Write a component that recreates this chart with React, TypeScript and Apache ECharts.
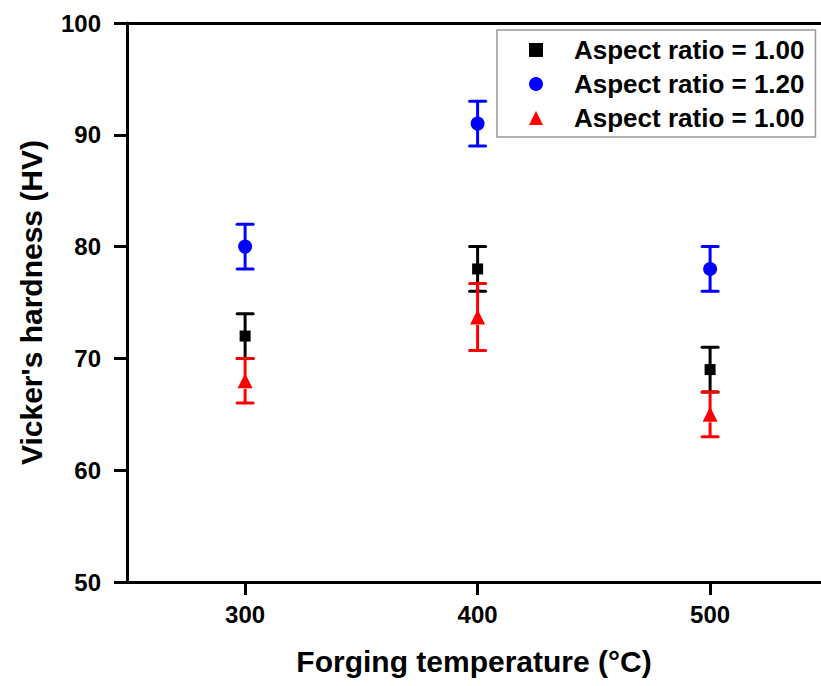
import React, { useEffect, useRef } from "react";
import * as echarts from "echarts";

const temperatures = [300, 400, 500];
const xTicks = [300, 400, 500];

const ar100Mean = [72, 78, 69];
const ar100Err = [2, 2, 2];
const ar120Mean = [80, 91, 78];
const ar120Err = [2, 2, 2];
const ar100bMean = [68, 73.7, 65];
const ar100bErr = [2, 3, 2];

const seriesNames = ["AR100", "AR120", "AR100b"];
const legendLabels: Record<string, string> = {
  AR100: "Aspect ratio = 1.00",
  AR120: "Aspect ratio = 1.20",
  AR100b: "Aspect ratio = 1.00",
};

const FONT = "'Liberation Sans', Arial, sans-serif";

function errData(means: number[], errs: number[]) {
  return temperatures.map((t, i) => [t, means[i], errs[i]]);
}

function scatterData(means: number[]) {
  return temperatures.map((t, i) => [t, means[i]]);
}

function errSeries(name: string, means: number[], errs: number[], color: string, gapBelow: number, z: number) {
  return {
    type: "custom",
    name: name + "_err",
    z,
    data: errData(means, errs),
    encode: { x: 0, y: 1 },
    renderItem: (params: any, api: any) => {
      const x = api.value(0);
      const m = api.value(1);
      const e = api.value(2);
      const pHi = api.coord([x, m + e]);
      const pLo = api.coord([x, m - e]);
      const pM = api.coord([x, m]);
      const hw = 8;
      const style = { stroke: color, lineWidth: 3, lineCap: "butt" };
      return {
        type: "group",
        children: [
          { type: "line", shape: { x1: pHi[0], y1: pHi[1], x2: pM[0], y2: pM[1] }, style },
          { type: "line", shape: { x1: pM[0], y1: pM[1] + gapBelow, x2: pLo[0], y2: pLo[1] }, style },
          { type: "line", shape: { x1: pHi[0] - hw, y1: pHi[1], x2: pHi[0] + hw, y2: pHi[1] }, style: { ...style, lineCap: "round" } },
          { type: "line", shape: { x1: pLo[0] - hw, y1: pLo[1], x2: pLo[0] + hw, y2: pLo[1] }, style: { ...style, lineCap: "round" } },
        ],
      };
    },
  };
}

export default function App() {
  const ref = useRef<HTMLDivElement>(null);
  useEffect(() => {
    if (!ref.current) return;
    const chart = echarts.init(ref.current, undefined, { renderer: "svg" });
    const axisLabelStyle = { color: "#000", fontFamily: FONT, fontWeight: "bold", fontSize: 24 };
    const nameStyle = { color: "#000", fontFamily: FONT, fontWeight: "bold", fontSize: 30 };
    chart.setOption({
      animation: false,
      backgroundColor: "#fff",
      grid: { left: 127, top: 23, right: 0, bottom: 104, containLabel: false },
      legend: {
        orient: "vertical",
        left: 497,
        top: 30,
        padding: [7, 11, 6, 32],
        itemWidth: 14,
        itemHeight: 14,
        itemGap: 8,
        symbolKeepAspect: true,
        borderColor: "#999",
        borderWidth: 1.5,
        backgroundColor: "#fff",
        data: [
          { name: "AR100", icon: "rect", itemStyle: { color: "#000" } },
          { name: "AR120", icon: "circle", itemStyle: { color: "#0000ff" } },
          { name: "AR100b", icon: "triangle", itemStyle: { color: "#ff0000" } },
        ],
        formatter: (n: string) => legendLabels[n],
        textStyle: { color: "#000", fontFamily: FONT, fontWeight: "bold", fontSize: 26, lineHeight: 26, padding: [0, 0, 0, 26] },
        selectedMode: false,
      },
      xAxis: [
        {
          type: "value",
          min: 249.2,
          max: 547.7,
          position: "bottom",
          name: "Forging temperature (°C)",
          nameLocation: "middle",
          nameGap: 64,
          nameTextStyle: nameStyle,
          axisLine: { show: true, lineStyle: { color: "#000", width: 3 } },
          axisTick: { show: true, inside: false, length: 13, lineStyle: { color: "#000", width: 3 }, customValues: xTicks },
          axisLabel: { ...axisLabelStyle, margin: 20, customValues: xTicks },
          splitLine: { show: false },
        },
        {
          type: "value",
          min: 249.2,
          max: 547.7,
          position: "top",
          axisLine: { show: true, onZero: false, lineStyle: { color: "#000", width: 3 } },
          axisTick: { show: false },
          axisLabel: { show: false },
          splitLine: { show: false },
        },
      ],
      yAxis: {
        type: "value",
        min: 50,
        max: 100,
        interval: 10,
        name: "Vicker's hardness (HV)",
        nameLocation: "middle",
        nameRotate: 90,
        nameGap: 81,
        nameTextStyle: nameStyle,
        axisLine: { show: true, lineStyle: { color: "#000", width: 3 } },
        axisTick: { show: true, inside: false, length: 13, lineStyle: { color: "#000", width: 3 } },
        axisLabel: { ...axisLabelStyle, margin: 26 },
        splitLine: { show: false },
      },
      series: [
        errSeries("AR120", ar120Mean, ar120Err, "#0000ff", 0, 2),
        {
          type: "scatter",
          name: "AR120",
          z: 3,
          symbol: "circle",
          symbolSize: 14,
          itemStyle: { color: "#0000ff", opacity: 1 },
          data: scatterData(ar120Mean),
        },
        errSeries("AR100", ar100Mean, ar100Err, "#000000", 0, 4),
        {
          type: "scatter",
          name: "AR100",
          z: 5,
          symbol: "rect",
          symbolSize: 11,
          itemStyle: { color: "#000000", opacity: 1 },
          data: scatterData(ar100Mean),
        },
        errSeries("AR100b", ar100bMean, ar100bErr, "#ff0000", 8, 6),
        {
          type: "scatter",
          name: "AR100b",
          z: 7,
          symbol: "triangle",
          symbolSize: 15,
          itemStyle: { color: "#ff0000", opacity: 1 },
          data: scatterData(ar100bMean),
        },
      ],
    });
    return () => chart.dispose();
  }, []);
  return (
    <div
      ref={ref}
      style={{ position: "fixed", left: 0, top: 0, width: 821, height: 686, background: "#fff" }}
    />
  );
}
